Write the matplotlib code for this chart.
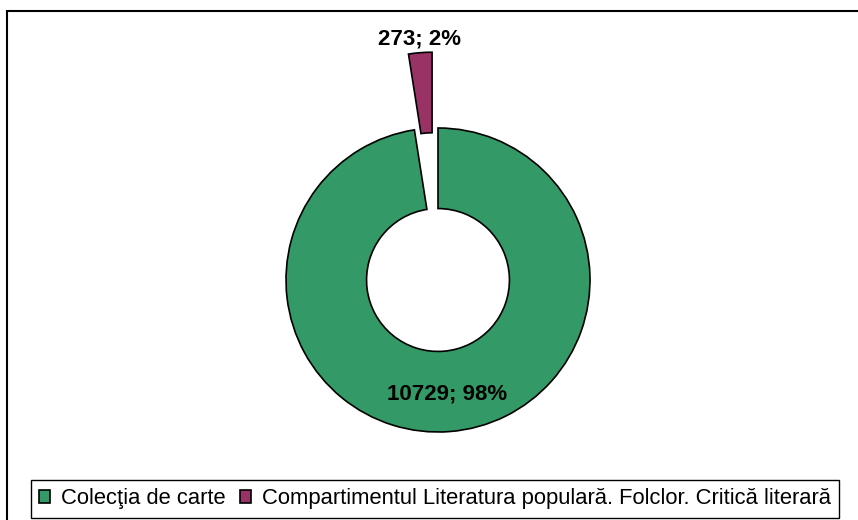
import matplotlib.pyplot as plt
import numpy as np
from matplotlib.patches import Rectangle

plt.rcParams['font.family'] = ['Liberation Sans', 'DejaVu Sans']

# Date
categorii = ['Colecţia de carte',
             'Compartimentul Literatura populară. Folclor. Critică literară']
valori = [10729, 273]
culori = ['#339966', '#993366']
explodare = [0, 0.5]

W, H = 858, 520
R = 152          # raza in pixeli
cx, cy = 438, 280  # centrul (pixeli, de sus)

fig = plt.figure(figsize=(W / 100, H / 100), dpi=100)
ax = fig.add_axes([0, 0, 1, 1])

wedges, _ = ax.pie(valori, colors=culori, explode=explodare, startangle=90,
                   counterclock=False, radius=1,
                   wedgeprops=dict(width=0.53, edgecolor='black', linewidth=1.2))

ax.set_xlim(-cx / R, (W - cx) / R)
ax.set_ylim(-(H - cy) / R, cy / R)
ax.set_aspect('equal')
ax.axis('off')

# Etichete: valoare; procent
total = sum(valori)
dist = [0.75, 1.59]
start = 90
for v, d in zip(valori, dist):
    span = 360 * v / total
    mid = np.deg2rad(start - span / 2)
    start -= span
    ax.text(d * np.cos(mid), d * np.sin(mid), f'{v}; {round(100 * v / total)}%',
            ha='center', va='center', fontsize=16, fontweight='bold')

# Chenar exterior
fig.add_artist(Rectangle((7 / W, -0.1), 1.2, 1 - 10.5 / H + 0.1,
                         transform=fig.transFigure, fill=False,
                         edgecolor='black', linewidth=1.5))

leg = fig.legend(wedges, categorii, loc='upper left',
                 bbox_to_anchor=(31 / W, 1 - 480 / H), ncol=2,
                 frameon=True, fancybox=False, edgecolor='black', framealpha=1,
                 borderaxespad=0, handlelength=0.5, handleheight=0.5,
                 handletextpad=0.5, columnspacing=0.65, borderpad=0.38,
                 fontsize=15.8)
leg.get_frame().set_linewidth(1.0)

fig.savefig('out.png', dpi=100)
